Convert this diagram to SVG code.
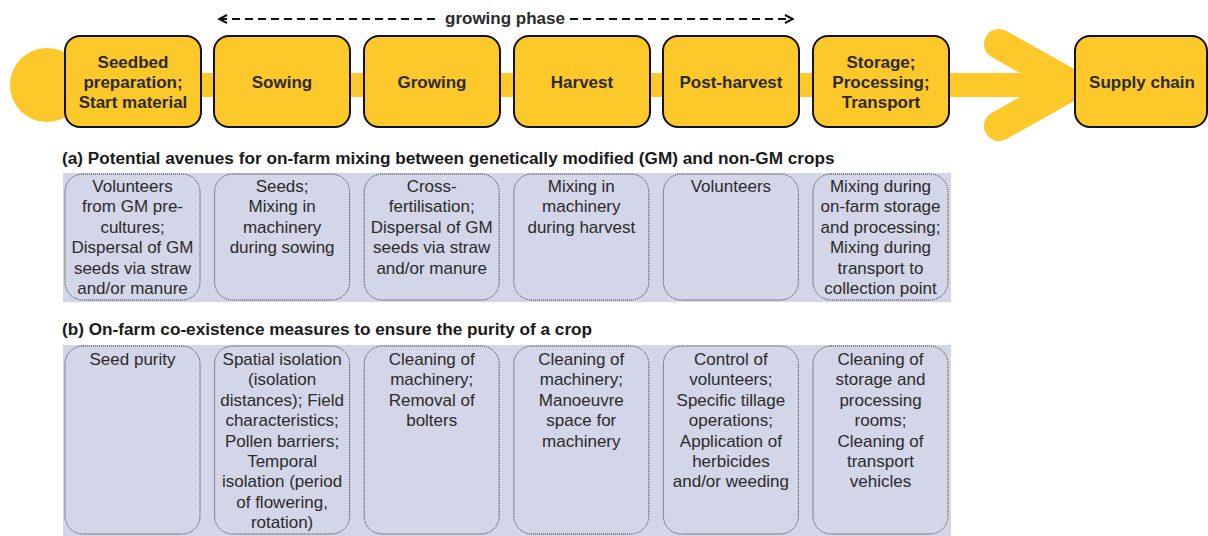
<svg xmlns="http://www.w3.org/2000/svg" width="1208" height="536" viewBox="0 0 1208 536">
<defs>
<style>
.stage{fill:#fdc82a;stroke:#111;stroke-width:2}
.st{font-family:"Liberation Sans",Arial,sans-serif;font-weight:bold;font-size:17px;fill:#2b2b2b;text-anchor:middle}
.box{fill:#d3d5e8;stroke:#333;stroke-width:1;stroke-dasharray:1 1}
.bt{font-family:"Liberation Sans",Arial,sans-serif;font-size:17px;fill:#2b2b2b;text-anchor:middle}
.hd{font-family:"Liberation Sans",Arial,sans-serif;font-weight:bold;font-size:17.2px;fill:#1a1a1a}
.band{fill:#d3d5e8}
</style>
<marker id="ah" viewBox="0 0 10 10" refX="9" refY="5" markerWidth="10" markerHeight="10" markerUnits="userSpaceOnUse" orient="auto-start-reverse">
<path d="M1,1 L9,5 L1,9" fill="none" stroke="#111" stroke-width="2"/>
</marker>
</defs>
<rect width="1208" height="536" fill="#fff"/>
<g id="connectors">
<circle cx="47" cy="85" r="37" fill="#fdc82a"/>
<rect x="47" y="73" width="1030" height="24" fill="#fdc82a"/>
<path d="M999,44 L1072,85 L999,126" fill="none" stroke="#fdc82a" stroke-width="30" stroke-linecap="round" stroke-linejoin="miter"/>
<line x1="219" y1="19" x2="438" y2="19" stroke="#111" stroke-width="2.2" stroke-dasharray="8 5" marker-start="url(#ah)"/>
<line x1="570" y1="19" x2="793" y2="19" stroke="#111" stroke-width="2.2" stroke-dasharray="8 5" marker-end="url(#ah)"/>
</g>
<text x="505" y="24" class="st" font-size="16">growing phase</text>
<g id="stage1"><rect class="stage" x="65" y="36" width="136" height="91" rx="15"/><text class="st"><tspan x="133" y="68">Seedbed</tspan><tspan x="133" y="88">preparation;</tspan><tspan x="133" y="108">Start material</tspan></text></g>
<g id="stage2"><rect class="stage" x="214" y="36" width="136" height="91" rx="15"/><text class="st" x="282" y="88">Sowing</text></g>
<g id="stage3"><rect class="stage" x="364" y="36" width="136" height="91" rx="15"/><text class="st" x="432" y="88">Growing</text></g>
<g id="stage4"><rect class="stage" x="514" y="36" width="136" height="91" rx="15"/><text class="st" x="582" y="88">Harvest</text></g>
<g id="stage5"><rect class="stage" x="663" y="36" width="136" height="91" rx="15"/><text class="st" x="731" y="88">Post-harvest</text></g>
<g id="stage6"><rect class="stage" x="813" y="36" width="136" height="91" rx="15"/><text class="st"><tspan x="881" y="68">Storage;</tspan><tspan x="881" y="88">Processing;</tspan><tspan x="881" y="108">Transport</tspan></text></g>
<g id="stage7"><rect class="stage" x="1075" y="36" width="132" height="91" rx="15"/><text class="st" x="1142" y="88">Supply chain</text></g>
<text class="hd" x="62" y="164">(a) Potential avenues for on-farm mixing between genetically modified (GM) and non-GM crops</text>
<rect class="band" x="63" y="173" width="888" height="129"/>
<g id="a1"><rect class="box" x="65" y="174" width="135" height="126" rx="18"/><text class="bt"><tspan x="132.5" y="192">Volunteers</tspan><tspan x="132.5" y="212.4">from GM pre-</tspan><tspan x="132.5" y="232.8">cultures;</tspan><tspan x="132.5" y="253.2">Dispersal of GM</tspan><tspan x="132.5" y="273.6">seeds via straw</tspan><tspan x="132.5" y="294">and/or manure</tspan></text></g>
<g id="a2"><rect class="box" x="214.6" y="174" width="135" height="126" rx="18"/><text class="bt"><tspan x="282.1" y="192">Seeds;</tspan><tspan x="282.1" y="212.4">Mixing in</tspan><tspan x="282.1" y="232.8">machinery</tspan><tspan x="282.1" y="253.2">during sowing</tspan></text></g>
<g id="a3"><rect class="box" x="364.2" y="174" width="135" height="126" rx="18"/><text class="bt"><tspan x="431.7" y="192">Cross-</tspan><tspan x="431.7" y="212.4">fertilisation;</tspan><tspan x="431.7" y="232.8">Dispersal of GM</tspan><tspan x="431.7" y="253.2">seeds via straw</tspan><tspan x="431.7" y="273.6">and/or manure</tspan></text></g>
<g id="a4"><rect class="box" x="513.8" y="174" width="135" height="126" rx="18"/><text class="bt"><tspan x="581.3" y="192">Mixing in</tspan><tspan x="581.3" y="212.4">machinery</tspan><tspan x="581.3" y="232.8">during harvest</tspan></text></g>
<g id="a5"><rect class="box" x="663.4" y="174" width="135" height="126" rx="18"/><text class="bt" x="730.9" y="192">Volunteers</text></g>
<g id="a6"><rect class="box" x="813" y="174" width="135" height="126" rx="18"/><text class="bt"><tspan x="880.5" y="192">Mixing during</tspan><tspan x="880.5" y="212.4">on-farm storage</tspan><tspan x="880.5" y="232.8">and processing;</tspan><tspan x="880.5" y="253.2">Mixing during</tspan><tspan x="880.5" y="273.6">transport to</tspan><tspan x="880.5" y="294">collection point</tspan></text></g>
<text class="hd" x="62" y="335">(b) On-farm co-existence measures to ensure the purity of a crop</text>
<rect class="band" x="63" y="345" width="888" height="191"/>
<g id="b1"><rect class="box" x="65" y="346" width="135" height="188" rx="18"/><text class="bt" x="132.5" y="365">Seed purity</text></g>
<g id="b2"><rect class="box" x="214.6" y="346" width="135" height="188" rx="18"/><text class="bt"><tspan x="282.1" y="365">Spatial isolation</tspan><tspan x="282.1" y="385.4">(isolation</tspan><tspan x="282.1" y="405.8">distances); Field</tspan><tspan x="282.1" y="426.2">characteristics;</tspan><tspan x="282.1" y="446.6">Pollen barriers;</tspan><tspan x="282.1" y="467">Temporal</tspan><tspan x="282.1" y="487.4">isolation (period</tspan><tspan x="282.1" y="507.8">of flowering,</tspan><tspan x="282.1" y="528.2">rotation)</tspan></text></g>
<g id="b3"><rect class="box" x="364.2" y="346" width="135" height="188" rx="18"/><text class="bt"><tspan x="431.7" y="365">Cleaning of</tspan><tspan x="431.7" y="385.4">machinery;</tspan><tspan x="431.7" y="405.8">Removal of</tspan><tspan x="431.7" y="426.2">bolters</tspan></text></g>
<g id="b4"><rect class="box" x="513.8" y="346" width="135" height="188" rx="18"/><text class="bt"><tspan x="581.3" y="365">Cleaning of</tspan><tspan x="581.3" y="385.4">machinery;</tspan><tspan x="581.3" y="405.8">Manoeuvre</tspan><tspan x="581.3" y="426.2">space for</tspan><tspan x="581.3" y="446.6">machinery</tspan></text></g>
<g id="b5"><rect class="box" x="663.4" y="346" width="135" height="188" rx="18"/><text class="bt"><tspan x="730.9" y="365">Control of</tspan><tspan x="730.9" y="385.4">volunteers;</tspan><tspan x="730.9" y="405.8">Specific tillage</tspan><tspan x="730.9" y="426.2">operations;</tspan><tspan x="730.9" y="446.6">Application of</tspan><tspan x="730.9" y="467">herbicides</tspan><tspan x="730.9" y="487.4">and/or weeding</tspan></text></g>
<g id="b6"><rect class="box" x="813" y="346" width="135" height="188" rx="18"/><text class="bt"><tspan x="880.5" y="365">Cleaning of</tspan><tspan x="880.5" y="385.4">storage and</tspan><tspan x="880.5" y="405.8">processing</tspan><tspan x="880.5" y="426.2">rooms;</tspan><tspan x="880.5" y="446.6">Cleaning of</tspan><tspan x="880.5" y="467">transport</tspan><tspan x="880.5" y="487.4">vehicles</tspan></text></g>
</svg>
